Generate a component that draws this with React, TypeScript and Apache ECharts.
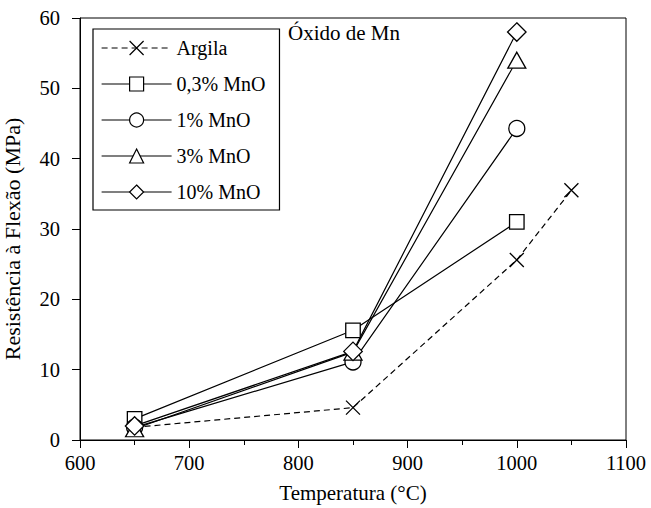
import React, { useEffect, useRef } from "react";
import * as echarts from "echarts";

const argilaX = [650, 850, 1000, 1050];
const argilaY = [1.8, 4.6, 25.6, 35.5];
const mnoX = [650, 850, 1000];
const mno03 = [3.0, 15.6, 31.0];
const mno1 = [1.8, 11.1, 44.3];
const mno3 = [1.6, 12.5, 54.0];
const mno10 = [2.0, 12.6, 58.0];
const seriesNames = ["Argila", "0,3% MnO", "1% MnO", "3% MnO", "10% MnO"];

const FONT = "Liberation Serif";
const crossPath = "path://M0,0L10,10M10,0L0,10";

function pairs(xs: number[], ys: number[]) {
  return xs.map((x, i) => [x, ys[i]]);
}

export default function App() {
  const ref = useRef<HTMLDivElement>(null);
  useEffect(() => {
    if (!ref.current) return;
    const chart = echarts.init(ref.current, null, { renderer: "svg" });
    const mk = (name: string, data: number[][], symbol: string, size: number | number[], dashed: boolean) => ({
      name,
      type: "line",
      data,
      symbol,
      symbolSize: size,
      showAllSymbol: true,
      lineStyle: { color: "#000", width: 1.2, type: dashed ? [6, 4] : "solid" },
      itemStyle: { color: "#fff", borderColor: "#000", borderWidth: 1.3 },
      emphasis: { disabled: true },
      z: 2,
    });
    chart.setOption({
      animation: false,
      backgroundColor: "#fff",
      textStyle: { fontFamily: FONT, color: "#000" },
      grid: {
        left: 80,
        top: 18,
        right: 25,
        bottom: 68,
        show: true,
        borderColor: "#000",
        borderWidth: 1,
        containLabel: false,
        outerBoundsMode: "none",
      },
      xAxis: {
        type: "value",
        min: 600,
        max: 1100,
        interval: 100,
        name: "Temperatura (°C)",
        nameLocation: "middle",
        nameGap: 42,
        nameTextStyle: { fontFamily: FONT, fontSize: 21, color: "#000" },
        axisLine: { lineStyle: { color: "#000", width: 1 } },
        axisTick: { inside: false, length: 8, lineStyle: { color: "#000" } },
        minorTick: { show: true, splitNumber: 2, length: 5, lineStyle: { color: "#000" } },
        splitLine: { show: false },
        axisLabel: { fontFamily: FONT, fontSize: 20.5, color: "#000", margin: 12, formatter: (v: number) => String(v) },
      },
      yAxis: {
        type: "value",
        min: 0,
        max: 60,
        interval: 10,
        name: "Resistência à Flexão (MPa)",
        nameLocation: "middle",
        nameGap: 57,
        nameTextStyle: { fontFamily: FONT, fontSize: 22, color: "#000", padding: [0, 20, 0, 0] },
        axisLine: { show: true, lineStyle: { color: "#000", width: 1 } },
        axisTick: { show: true, inside: false, length: 8, lineStyle: { color: "#000" } },
        splitLine: { show: false },
        axisLabel: { fontFamily: FONT, fontSize: 20.5, color: "#000", margin: 20, formatter: (v: number) => String(v) },
      },
      legend: {
        orient: "vertical",
        left: 93,
        top: 29,
        data: seriesNames,
        itemWidth: 70,
        itemHeight: 17.5,
        itemGap: 16,
        padding: [9, 14, 8, 8],
        borderColor: "#000",
        borderWidth: 1.2,
        backgroundColor: "#fff",
        lineStyle: { width: 1.2, color: "#000" },
        itemStyle: { borderWidth: 1.2, borderColor: "#000", color: "#fff" },
        textStyle: { fontFamily: FONT, fontSize: 20, color: "#000" },
        selectedMode: false,
      },
      graphic: [
        {
          type: "text",
          left: 288,
          top: 22,
          style: { text: "Óxido de Mn", font: `21px "${FONT}"`, fill: "#000" },
        },
      ],
      series: [
        mk(seriesNames[0], pairs(argilaX, argilaY), crossPath, 14, true),
        mk(seriesNames[1], pairs(mnoX, mno03), "rect", 14.5, false),
        mk(seriesNames[2], pairs(mnoX, mno1), "circle", 16, false),
        mk(seriesNames[3], pairs(mnoX, mno3), "triangle", [18, 16], false),
        mk(seriesNames[4], pairs(mnoX, mno10), "diamond", 18.5, false),
      ],
    });
    return () => chart.dispose();
  }, []);
  return <div ref={ref} style={{ width: 651, height: 508, position: "absolute", left: 0, top: 0 }} />;
}
